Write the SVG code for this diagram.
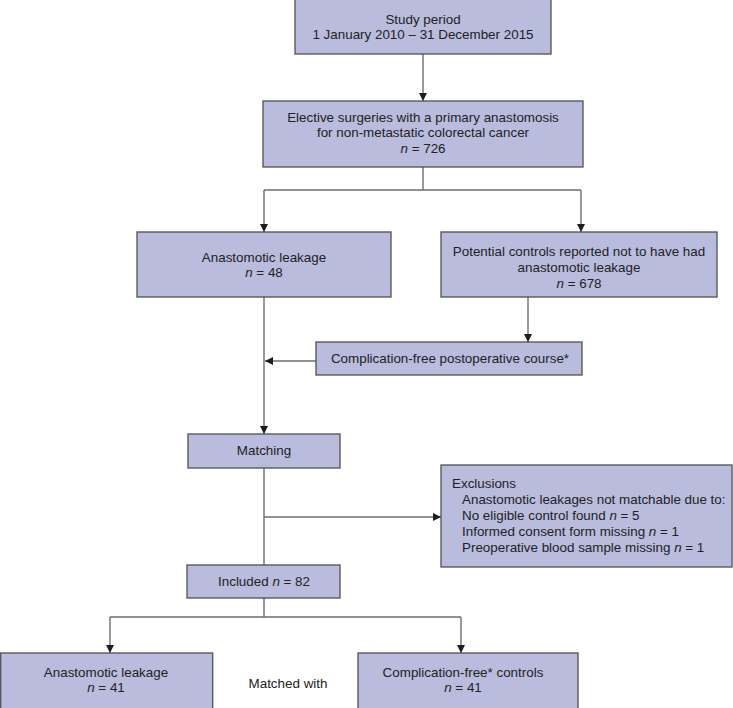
<svg xmlns="http://www.w3.org/2000/svg" width="733" height="708" viewBox="0 0 733 708">
<style>
  .box { fill: #b9bcdc; stroke: #505050; stroke-width: 1.3; }
  .t { font-family: "Liberation Sans", Arial, sans-serif; font-size: 13.4px; fill: #222; }
  .c { text-anchor: middle; }
  .i { font-style: italic; }
  .ln { fill: none; stroke: #6e6e6e; stroke-width: 1.4; }
  .ar { fill: none; stroke: #6e6e6e; stroke-width: 1.4; marker-end: url(#ah); }
</style>
<defs>
  <marker id="ah" markerUnits="userSpaceOnUse" markerWidth="9" markerHeight="9" refX="8" refY="4" orient="auto">
    <path d="M0,0 L8,4 L0,8 Z" fill="#1e1e1e"/>
  </marker>
</defs>
<rect width="733" height="708" fill="#ffffff"/>

<g id="connectors">
  <path class="ar" d="M423,54 V101"/>
  <path class="ln" d="M423,167 V190 M264,190 H581"/>
  <path class="ar" d="M264,190 V232"/>
  <path class="ar" d="M581,190 V232"/>
  <path class="ar" d="M528,297 V342"/>
  <path class="ar" d="M316,361 H265"/>
  <path class="ar" d="M264,297 V434"/>
  <path class="ln" d="M264,468 V565"/>
  <path class="ar" d="M264,517 H441"/>
  <path class="ln" d="M264,598 V617 M110,617 H461"/>
  <path class="ar" d="M110,617 V653"/>
  <path class="ar" d="M461,617 V653"/>
</g>

<g id="study-period">
  <rect class="box" x="295" y="-1" width="256" height="55"/>
  <text class="t c" x="423" y="24">Study period</text>
  <text class="t c" x="423" y="39">1 January 2010 – 31 December 2015</text>
</g>

<g id="elective">
  <rect class="box" x="263" y="101" width="320" height="66"/>
  <text class="t c" x="423" y="122">Elective surgeries with a primary anastomosis</text>
  <text class="t c" x="423" y="137">for non-metastatic colorectal cancer</text>
  <text class="t c" x="423" y="153"><tspan class="i">n</tspan> = 726</text>
</g>

<g id="leakage">
  <rect class="box" x="137" y="232" width="254" height="65"/>
  <text class="t c" x="264" y="262">Anastomotic leakage</text>
  <text class="t c" x="264" y="277"><tspan class="i">n</tspan> = 48</text>
</g>

<g id="potential-controls">
  <rect class="box" x="441" y="232" width="276" height="65"/>
  <text class="t c" x="579" y="256">Potential controls reported not to have had</text>
  <text class="t c" x="579" y="272">anastomotic leakage</text>
  <text class="t c" x="579" y="288"><tspan class="i">n</tspan> = 678</text>
</g>

<g id="complication-free">
  <rect class="box" x="316" y="342" width="266" height="33"/>
  <text class="t c" x="450" y="363">Complication-free postoperative course*</text>
</g>

<g id="matching">
  <rect class="box" x="188" y="434" width="152" height="34"/>
  <text class="t c" x="264" y="455">Matching</text>
</g>

<g id="exclusions">
  <rect class="box" x="441" y="465" width="291" height="102"/>
  <text class="t" x="452" y="488">Exclusions</text>
  <text class="t" x="462" y="504">Anastomotic leakages not matchable due to:</text>
  <text class="t" x="462" y="520">No eligible control found <tspan class="i">n</tspan> = 5</text>
  <text class="t" x="462" y="536">Informed consent form missing <tspan class="i">n</tspan> = 1</text>
  <text class="t" x="462" y="552">Preoperative blood sample missing <tspan class="i">n</tspan> = 1</text>
</g>

<g id="included">
  <rect class="box" x="187" y="565" width="153" height="33"/>
  <text class="t c" x="264" y="586">Included <tspan class="i">n</tspan> = 82</text>
</g>

<g id="leakage-41">
  <rect class="box" x="0.7" y="653" width="212" height="60"/>
  <text class="t c" x="106" y="677">Anastomotic leakage</text>
  <text class="t c" x="106" y="692"><tspan class="i">n</tspan> = 41</text>
</g>

<g id="matched-with">
  <text class="t c" x="288" y="688">Matched with</text>
</g>

<g id="controls-41">
  <rect class="box" x="358" y="653" width="220" height="60"/>
  <text class="t c" x="463" y="677">Complication-free* controls</text>
  <text class="t c" x="463" y="692"><tspan class="i">n</tspan> = 41</text>
</g>
</svg>
